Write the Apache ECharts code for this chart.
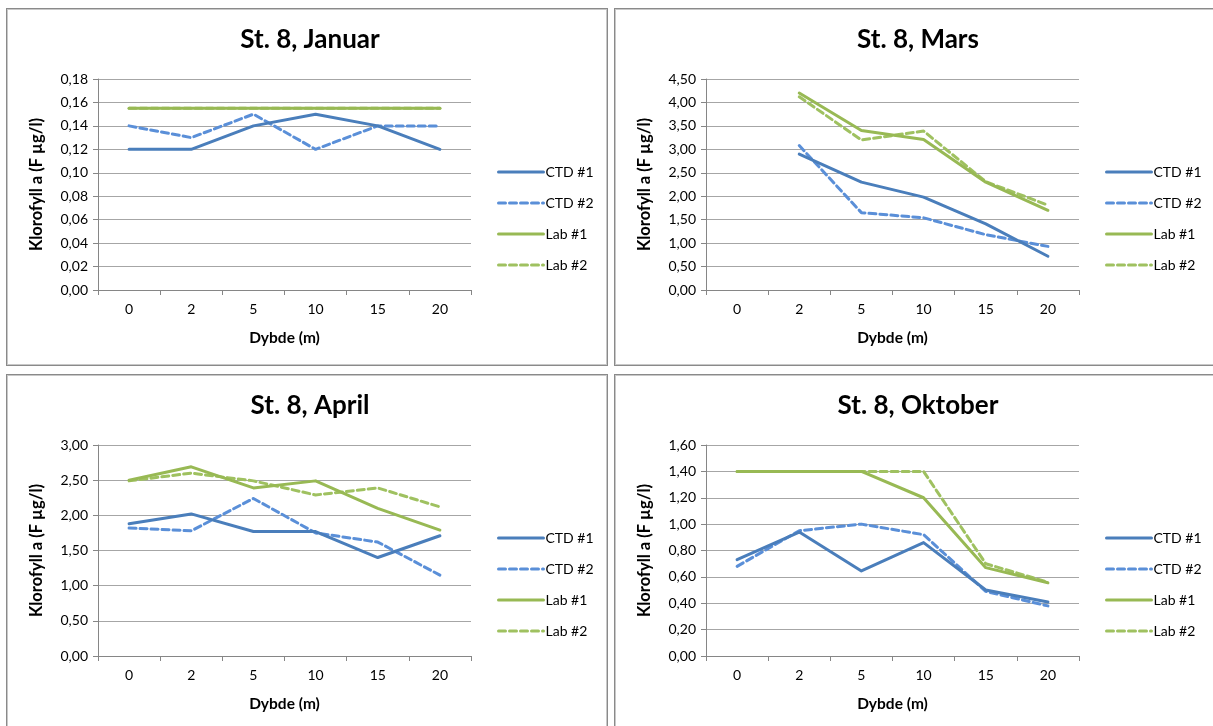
<!DOCTYPE html>
<html>
<head>
<meta charset="utf-8">
<script src="https://cdn.jsdelivr.net/npm/echarts@6/dist/echarts.min.js"></script>
<style>
html,body{margin:0;padding:0;background:#fff;width:1213px;height:726px;overflow:hidden;}
.panel{position:absolute;width:600px;height:356px;border:1px solid #8a8a8a;box-shadow:inset 0 0 0 1px #c8c8c8;background:#fff;}
</style>
</head>
<body>
<div id="p1" class="panel" style="left:6px;top:8px;"></div>
<div id="p2" class="panel" style="left:614px;top:8px;"></div>
<div id="p3" class="panel" style="left:6px;top:374px;"></div>
<div id="p4" class="panel" style="left:614px;top:374px;"></div>
<script>
// Categories (depth, m)
const depths = ['0', '2', '5', '10', '15', '20'];
const seriesNames = ['CTD #1', 'CTD #2', 'Lab #1', 'Lab #2'];

// St. 8, Januar
const janCTD1 = [0.12, 0.12, 0.14, 0.15, 0.14, 0.12];
const janCTD2 = [0.14, 0.13, 0.15, 0.12, 0.14, 0.14];
const janLab1 = [0.155, 0.155, 0.155, 0.155, 0.155, 0.155];
const janLab2 = [0.155, 0.155, 0.155, 0.155, 0.155, 0.155];

// St. 8, Mars
const marCTD1 = [null, 2.90, 2.30, 1.98, 1.41, 0.72];
const marCTD2 = [null, 3.08, 1.65, 1.54, 1.18, 0.93];
const marLab1 = [null, 4.20, 3.40, 3.21, 2.30, 1.70];
const marLab2 = [null, 4.12, 3.20, 3.39, 2.31, 1.81];

// St. 8, April
const aprCTD1 = [1.88, 2.02, 1.77, 1.77, 1.40, 1.71];
const aprCTD2 = [1.82, 1.78, 2.24, 1.75, 1.62, 1.15];
const aprLab1 = [2.50, 2.69, 2.39, 2.49, 2.10, 1.79];
const aprLab2 = [2.49, 2.60, 2.49, 2.29, 2.39, 2.12];

// St. 8, Oktober
const oktCTD1 = [0.73, 0.94, 0.645, 0.86, 0.50, 0.41];
const oktCTD2 = [0.68, 0.95, 1.00, 0.92, 0.49, 0.38];
const oktLab1 = [1.40, 1.40, 1.40, 1.20, 0.67, 0.555];
const oktLab2 = [1.40, 1.40, 1.40, 1.40, 0.70, 0.56];

// Axis settings
const janAxis = {max: 0.18, interval: 0.02};
const marAxis = {max: 4.5, interval: 0.5};
const aprAxis = {max: 3.0, interval: 0.5};
const oktAxis = {max: 1.6, interval: 0.2};

const titles = ['St. 8, Januar', 'St. 8, Mars', 'St. 8, April', 'St. 8, Oktober'];
const yTitle = 'Klorofyll a (F µg/l)';
const xTitle = 'Dybde (m)';

const FONT = 'Lato, "Liberation Sans", sans-serif';
const colors = ['#4a7ebb', '#5a8fd8', '#98b954', '#9fc160'];
const dashes = ['solid', [7, 4], 'solid', [7, 4]];

function build(el, title, axis, data) {
  const chart = echarts.init(document.getElementById(el), null, {renderer: 'canvas'});
  chart.setOption({
    animation: false,
    backgroundColor: 'transparent',
    title: {
      text: title, top: 13,
      left: 298, textAlign: 'center',
      textStyle: {fontFamily: FONT, fontSize: 26, fontWeight: 'bold', color: '#000'}
    },
    grid: {left: 91, top: 70, width: 373, height: 211, containLabel: false},
    legend: {
      orient: 'vertical', left: 485, top: 151,
      itemWidth: 45, itemHeight: 14, itemGap: 17,
      data: seriesNames,
      lineStyle: {width: 3},
      itemStyle: {color: 'rgba(0,0,0,0)', borderColor: 'rgba(0,0,0,0)', borderWidth: 0, opacity: 0},
      textStyle: {fontFamily: FONT, fontSize: 14, color: '#000', padding: [0, 0, 0, -3]},
      selectedMode: false
    },
    xAxis: {
      type: 'category', data: depths, boundaryGap: true,
      name: xTitle, nameLocation: 'middle', nameGap: 40,
      nameTextStyle: {fontFamily: FONT, fontSize: 15.5, fontWeight: 'bold', color: '#000'},
      axisLine: {lineStyle: {color: '#868686', width: 1}},
      axisTick: {show: true, alignWithLabel: false, length: 5, lineStyle: {color: '#868686'}},
      axisLabel: {fontFamily: FONT, fontSize: 14, color: '#000', margin: 12},
      splitLine: {show: false}
    },
    yAxis: {
      type: 'value', min: 0, max: axis.max, interval: axis.interval,
      name: yTitle, nameLocation: 'middle', nameGap: 53, nameRotate: 90,
      nameTextStyle: {fontFamily: FONT, fontSize: 16.5, fontWeight: 'bold', color: '#000'},
      axisLine: {show: true, lineStyle: {color: '#868686', width: 1}},
      axisTick: {show: true, length: 5, lineStyle: {color: '#868686'}},
      axisLabel: {fontFamily: FONT, fontSize: 14, color: '#000', margin: 10,
        formatter: v => v.toFixed(2).replace('.', ',')},
      splitLine: {show: true, lineStyle: {color: '#a6a6a6', width: 1}}
    },
    series: data.map((d, i) => ({
      name: seriesNames[i], type: 'line', data: d,
      symbol: 'none', showSymbol: false, connectNulls: false,
      lineStyle: {color: colors[i], width: 3, type: dashes[i], cap: 'round', join: 'round'},
      itemStyle: {color: colors[i]},
      z: 10 - i
    }))
  });
}

build('p1', titles[0], janAxis, [janCTD1, janCTD2, janLab1, janLab2]);
build('p2', titles[1], marAxis, [marCTD1, marCTD2, marLab1, marLab2]);
build('p3', titles[2], aprAxis, [aprCTD1, aprCTD2, aprLab1, aprLab2]);
build('p4', titles[3], oktAxis, [oktCTD1, oktCTD2, oktLab1, oktLab2]);
</script>
</body>
</html>
